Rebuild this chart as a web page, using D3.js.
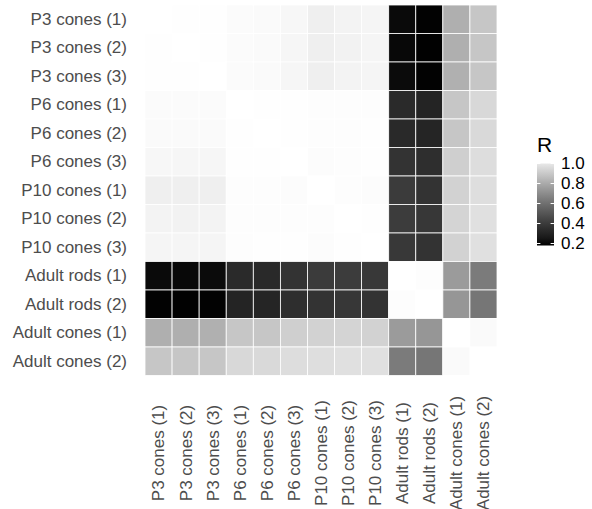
<!DOCTYPE html>
<meta charset="utf-8">
<script src="https://d3js.org/d3.v7.min.js"></script>
<style>
  body { margin: 0; background: #fff; }
  text { font-family: "Liberation Sans", Arial, Helvetica, sans-serif; }
</style>
<body>
<svg id="heatmap" width="592" height="509"></svg>
<script>

// sample names (rows top->bottom, columns left->right)
var samples = ["P3 cones (1)", "P3 cones (2)", "P3 cones (3)",
               "P6 cones (1)", "P6 cones (2)", "P6 cones (3)",
               "P10 cones (1)", "P10 cones (2)", "P10 cones (3)",
               "Adult rods (1)", "Adult rods (2)",
               "Adult cones (1)", "Adult cones (2)"];

// correlation matrix
var rP3c1  = [1.000, 0.998, 0.997, 0.990, 0.986, 0.977, 0.955, 0.966, 0.971, 0.202, 0.185, 0.766, 0.835];
var rP3c2  = [0.998, 1.000, 0.998, 0.989, 0.986, 0.975, 0.954, 0.963, 0.971, 0.198, 0.182, 0.766, 0.835];
var rP3c3  = [0.997, 0.998, 1.000, 0.989, 0.986, 0.975, 0.955, 0.966, 0.971, 0.205, 0.185, 0.770, 0.835];
var rP6c1  = [0.990, 0.989, 0.989, 1.000, 0.998, 0.997, 0.994, 0.994, 0.994, 0.320, 0.296, 0.835, 0.888];
var rP6c2  = [0.986, 0.986, 0.986, 0.998, 1.000, 0.997, 0.994, 0.994, 0.997, 0.316, 0.300, 0.835, 0.891];
var rP6c3  = [0.977, 0.975, 0.975, 0.997, 0.997, 1.000, 0.991, 0.994, 0.997, 0.354, 0.335, 0.862, 0.902];
var rP10c1 = [0.955, 0.954, 0.955, 0.994, 0.994, 0.991, 1.000, 0.993, 0.992, 0.383, 0.354, 0.870, 0.906];
var rP10c2 = [0.966, 0.963, 0.966, 0.994, 0.994, 0.994, 0.993, 1.000, 0.998, 0.387, 0.369, 0.876, 0.911];
var rP10c3 = [0.971, 0.971, 0.971, 0.994, 0.997, 0.997, 0.992, 0.998, 1.000, 0.373, 0.354, 0.870, 0.911];
var rAR1   = [0.202, 0.198, 0.205, 0.320, 0.316, 0.354, 0.383, 0.387, 0.373, 1.000, 0.994, 0.705, 0.603];
var rAR2   = [0.185, 0.182, 0.185, 0.296, 0.300, 0.335, 0.354, 0.369, 0.354, 0.994, 1.000, 0.690, 0.587];
var rAC1   = [0.766, 0.766, 0.770, 0.835, 0.835, 0.862, 0.870, 0.876, 0.870, 0.705, 0.690, 1.000, 0.986];
var rAC2   = [0.835, 0.835, 0.835, 0.888, 0.891, 0.902, 0.906, 0.911, 0.911, 0.603, 0.587, 0.986, 1.000];

var rows = [rP3c1, rP3c2, rP3c3, rP6c1, rP6c2, rP6c3, rP10c1, rP10c2, rP10c3, rAR1, rAR2, rAC1, rAC2];

var legendBreaks = [0.2, 0.4, 0.6, 0.8, 1.0];
var colorDomain = [0.18, 1.0];

// panel position
var panel = {left: 145, right: 497, top: 5, bottom: 375.5};

var svg = d3.select("#heatmap");

var x = d3.scaleBand().domain(samples).range([panel.left, panel.right]);
var y = d3.scaleBand().domain(samples).range([panel.top, panel.bottom]);

var color = d3.scaleLinear()
    .domain(colorDomain)
    .range(["#000000", "#ffffff"])
    .interpolate(d3.interpolateLab);

// flatten to cells
var cells = [];
rows.forEach(function(row, i) {
  row.forEach(function(v, j) {
    cells.push({row: samples[i], col: samples[j], r: v});
  });
});

svg.append("g")
  .selectAll("rect")
  .data(cells)
  .enter().append("rect")
    .attr("x", d => x(d.col))
    .attr("y", d => y(d.row))
    .attr("width", x.bandwidth())
    .attr("height", y.bandwidth())
    .attr("fill", d => color(d.r))
    .attr("stroke", "#ffffff")
    .attr("stroke-width", 0.8);

// y axis labels
var yAxis = svg.append("g")
  .attr("transform", "translate(" + (panel.left - 18) + ",0)")
  .call(d3.axisLeft(y).tickSize(0).tickPadding(0));
yAxis.select(".domain").remove();
yAxis.selectAll("text")
  .attr("fill", "#4d4d4d")
  .style("font-size", "17px");

// x axis labels, rotated
var xAxis = svg.append("g")
  .attr("transform", "translate(0,453)")
  .call(d3.axisBottom(x).tickSize(0).tickPadding(0));
xAxis.select(".domain").remove();
xAxis.selectAll("text")
  .attr("fill", "#4d4d4d")
  .style("font-size", "17px")
  .attr("transform", "rotate(-90)")
  .attr("x", 0)
  .attr("y", 0)
  .attr("dy", "0.35em")
  .attr("text-anchor", "middle");

// legend
var legY = d3.scaleLinear().domain([0.2, 1.0]).range([243.5, 163.5]);
var legX = 537, legW = 17;

var defs = svg.append("defs");
var grad = defs.append("linearGradient")
  .attr("id", "legendGrad")
  .attr("x1", 0).attr("y1", 1).attr("x2", 0).attr("y2", 0);
var legTop = d3.interpolateLab("#000000", "#e8e8e8");
d3.range(0, 1.001, 0.1).forEach(function(t) {
  grad.append("stop").attr("offset", t).attr("stop-color", legTop(t));
});

svg.append("rect")
  .attr("x", legX)
  .attr("y", legY(colorDomain[1]))
  .attr("width", legW)
  .attr("height", legY(colorDomain[0]) - legY(colorDomain[1]))
  .attr("fill", "url(#legendGrad)");

var ticks = svg.append("g");
legendBreaks.forEach(function(b) {
  ticks.append("line")
    .attr("x1", legX).attr("x2", legX + 3.4)
    .attr("y1", legY(b)).attr("y2", legY(b))
    .attr("stroke", "#ffffff").attr("stroke-width", 1);
  ticks.append("line")
    .attr("x1", legX + legW - 3.4).attr("x2", legX + legW)
    .attr("y1", legY(b)).attr("y2", legY(b))
    .attr("stroke", "#ffffff").attr("stroke-width", 1);
  ticks.append("text")
    .attr("x", legX + legW + 7)
    .attr("y", legY(b))
    .attr("dy", "0.35em")
    .style("font-size", "17px")
    .attr("fill", "#000000")
    .text(d3.format(".1f")(b));
});

svg.append("text")
  .attr("x", legX)
  .attr("y", 152)
  .style("font-size", "21px")
  .attr("fill", "#000000")
  .text("R");

</script>
</body>
